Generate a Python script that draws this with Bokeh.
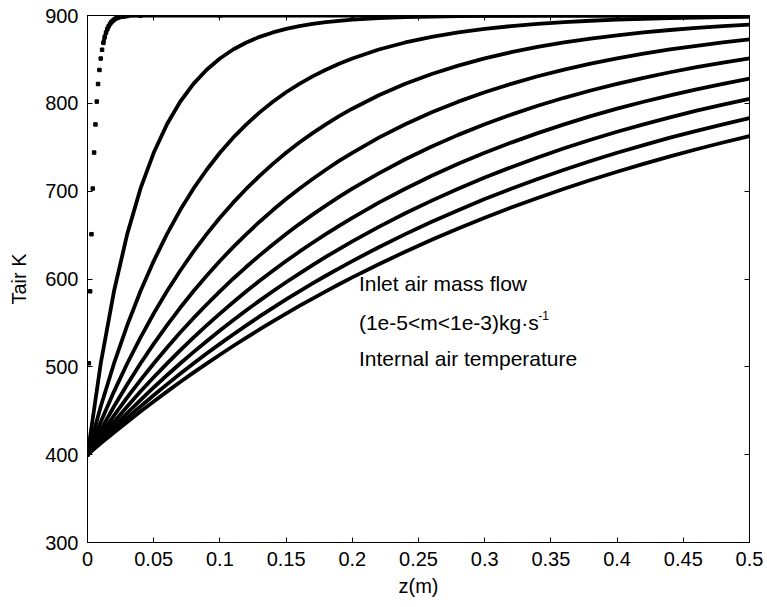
from bokeh.plotting import figure
from bokeh.models import Range1d, LinearAxis, FixedTicker, Label
from bokeh.embed import file_html
from bokeh.resources import INLINE

# ---- data ----
x_ticks = [0, 0.05, 0.1, 0.15, 0.2, 0.25, 0.3, 0.35, 0.4, 0.45, 0.5]
x_tick_labels = ["0", "0.05", "0.1", "0.15", "0.2", "0.25", "0.3", "0.35", "0.4", "0.45", "0.5"]
y_ticks = [300, 400, 500, 600, 700, 800, 900]

# fastest-heating case (smallest mass flow), solver points every 0.001 m
z_fast = [0.000, 0.001, 0.002, 0.003, 0.004, 0.005, 0.006, 0.007, 0.008, 0.009,
          0.010, 0.011, 0.012, 0.013, 0.014, 0.015, 0.016, 0.017, 0.018, 0.019,
          0.020, 0.021, 0.022, 0.023, 0.024, 0.025, 0.026, 0.027, 0.028, 0.029,
          0.030, 0.040, 0.100, 0.200, 0.300, 0.400, 0.500]
t_fast = [400, 504, 586, 651, 703, 744, 776, 802, 822, 838,
          851, 861, 869, 875.5, 880.6, 884.6, 887.8, 890.3, 892.3, 893.9,
          895.2, 896.2, 897.0, 897.6, 898.1, 898.5, 898.8, 899.0, 899.2, 899.4,
          899.5, 899.8, 900, 900, 900, 900, 900]

# other mass flows, sampled positions along z (m)
z = [0.00, 0.01, 0.02, 0.03, 0.04, 0.05, 0.06, 0.07, 0.08, 0.09, 0.10,
     0.11, 0.12, 0.13, 0.14, 0.15, 0.16, 0.17, 0.18, 0.19, 0.20,
     0.22, 0.24, 0.26, 0.28, 0.30, 0.32, 0.34, 0.36, 0.38, 0.40,
     0.42, 0.44, 0.46, 0.48, 0.50]
t_m2 = [400, 503.8, 586.0, 651.1, 702.8, 743.7, 776.1, 801.8, 822.2, 838.3, 851.1,
        861.3, 869.3, 875.7, 880.7, 884.7, 887.9, 890.4, 892.4, 894.0, 895.2,
        897.0, 898.1, 898.8, 899.3, 899.5, 899.7, 899.8, 899.9, 900, 900,
        900, 900, 900, 900, 900]
t_m3 = [400, 454.9, 503.8, 547.3, 586.0, 620.4, 651.1, 678.5, 702.8, 724.4, 743.7,
        760.9, 776.1, 789.7, 801.8, 812.6, 822.2, 830.7, 838.3, 845.1, 851.1,
        861.3, 869.3, 875.7, 880.7, 884.7, 887.9, 890.4, 892.4, 894.0, 895.2,
        896.2, 897.0, 897.6, 898.1, 898.5]
t_m4 = [400, 437.3, 471.8, 503.8, 533.3, 560.7, 586.0, 609.4, 631.1, 651.1, 669.7,
        686.9, 702.8, 717.5, 731.1, 743.7, 755.4, 766.1, 776.1, 785.4, 793.9,
        809.2, 822.2, 833.4, 842.9, 851.1, 858.2, 864.2, 869.3, 873.7, 877.5,
        880.7, 883.5, 885.9, 887.9, 889.6]
t_m5 = [400, 428.2, 454.9, 480.0, 503.8, 526.1, 547.3, 567.2, 586.0, 603.7, 620.5,
        636.3, 651.2, 665.2, 678.5, 691.0, 702.8, 713.9, 724.4, 734.4, 743.7,
        760.9, 776.2, 789.8, 801.9, 812.6, 822.2, 830.8, 838.4, 845.1, 851.2,
        856.5, 861.3, 865.5, 869.3, 872.7]
t_m6 = [400, 422.7, 444.4, 465.1, 484.9, 503.8, 521.8, 539.0, 555.4, 571.0, 586.0,
        600.3, 613.9, 626.9, 639.3, 651.1, 662.5, 673.3, 683.6, 693.4, 702.8,
        720.3, 736.3, 750.8, 764.1, 776.1, 787.1, 797.2, 806.3, 814.6, 822.2,
        829.1, 835.4, 841.2, 846.4, 851.1]
t_m7 = [400, 419.0, 437.3, 454.9, 471.8, 488.1, 503.7, 518.8, 533.3, 547.2, 560.6,
        573.5, 586.0, 597.9, 609.4, 620.4, 631.1, 641.3, 651.1, 660.6, 669.7,
        686.9, 702.8, 717.5, 731.1, 743.7, 755.3, 766.1, 776.1, 785.4, 793.9,
        801.8, 809.1, 815.9, 822.2, 828.0]
t_m8 = [400, 416.3, 432.2, 447.4, 462.2, 476.5, 490.4, 503.8, 516.7, 529.2, 541.4,
        553.1, 564.4, 575.4, 586.0, 596.3, 606.2, 615.8, 625.1, 634.1, 642.8,
        659.3, 674.8, 689.2, 702.8, 715.5, 727.3, 738.4, 748.8, 758.5, 767.6,
        776.1, 784.1, 791.6, 798.5, 805.1]
t_m9 = [400, 414.3, 428.2, 441.8, 454.9, 467.6, 480.0, 492.1, 503.7, 515.1, 526.1,
        536.8, 547.2, 557.4, 567.2, 576.7, 586.0, 595.0, 603.7, 612.2, 620.4,
        636.2, 651.1, 665.2, 678.4, 691.0, 702.8, 713.9, 724.4, 734.3, 743.7,
        752.5, 760.9, 768.7, 776.1, 783.1]
t_m10 = [400, 412.8, 425.2, 437.3, 449.1, 460.6, 471.8, 482.7, 493.4, 503.7, 513.8,
         523.7, 533.3, 542.6, 551.8, 560.6, 569.3, 577.7, 586.0, 594.0, 601.8,
         616.8, 631.1, 644.6, 657.5, 669.7, 681.3, 692.3, 702.8, 712.7, 722.1,
         731.1, 739.6, 747.7, 755.4, 762.6]
series = [t_m2, t_m3, t_m4, t_m5, t_m6, t_m7, t_m8, t_m9, t_m10]

FONT = "Liberation Sans"

p = figure(width=767, height=607, x_range=Range1d(0, 0.5), y_range=Range1d(300, 900),
           output_backend="svg", toolbar_location=None,
           min_border_left=87, min_border_right=18, min_border_top=15, min_border_bottom=65)
p.background_fill_color = "white"
p.border_fill_color = "white"
p.outline_line_color = "black"
p.outline_line_width = 1
p.xgrid.visible = False
p.ygrid.visible = False

for ax in (p.xaxis[0], p.yaxis[0]):
    ax.major_tick_in = 5
    ax.major_tick_out = 0
    ax.minor_tick_line_color = None
    ax.axis_line_color = "black"
    ax.major_tick_line_color = "black"
    ax.major_label_text_font = FONT
    ax.major_label_text_font_size = "20px"
    ax.major_label_text_color = "black"
    ax.axis_label_text_font = FONT
    ax.axis_label_text_font_size = "20px"
    ax.axis_label_text_font_style = "normal"
    ax.axis_label_text_color = "black"

p.xaxis.ticker = FixedTicker(ticks=x_ticks)
p.xaxis.major_label_overrides = {t: l for t, l in zip(x_ticks, x_tick_labels)}
p.xaxis.major_label_standoff = 9
p.xaxis.axis_label = "z(m)"
p.xaxis.axis_label_standoff = 6
p.yaxis.ticker = FixedTicker(ticks=y_ticks)
p.yaxis.major_label_standoff = 9
p.yaxis.axis_label = "Tair K"
p.yaxis.axis_label_standoff = 12

top = LinearAxis(ticker=FixedTicker(ticks=x_ticks), major_tick_in=5, major_tick_out=0,
                 minor_tick_line_color=None, major_label_text_font_size="0px",
                 major_label_text_color=None,
                 axis_line_color="black", major_tick_line_color="black")
right = LinearAxis(ticker=FixedTicker(ticks=y_ticks), major_tick_in=5, major_tick_out=0,
                   minor_tick_line_color=None, major_label_text_font_size="0px",
                   major_label_text_color=None,
                   axis_line_color="black", major_tick_line_color="black")
p.add_layout(top, "above")
p.add_layout(right, "right")

# curves
for t in series:
    p.line(z, t, line_color="black", line_width=3.8, line_join="round", line_cap="round")

p.line(z_fast[12:], t_fast[12:], line_color="black", line_width=3.8, line_join="round", line_cap="round")
p.scatter(z_fast, t_fast, marker="square", size=3.5, fill_color="black", line_color="black")

# annotation text
for txt, yy in [("Inlet air mass flow", 595), ("(1e-5<m<1e-3)kg\u00b7s", 550), ("Internal air temperature", 509)]:
    p.add_layout(Label(x=0.205, y=yy, text=txt, text_font=FONT, text_font_size="21px",
                       text_color="black", text_baseline="alphabetic", text_align="left"))
p.add_layout(Label(x=0.3405, y=559, text="-1", text_font=FONT, text_font_size="12px",
                   text_color="black", text_baseline="alphabetic", text_align="left"))

open("out.html", "w").write(file_html(p, INLINE))
